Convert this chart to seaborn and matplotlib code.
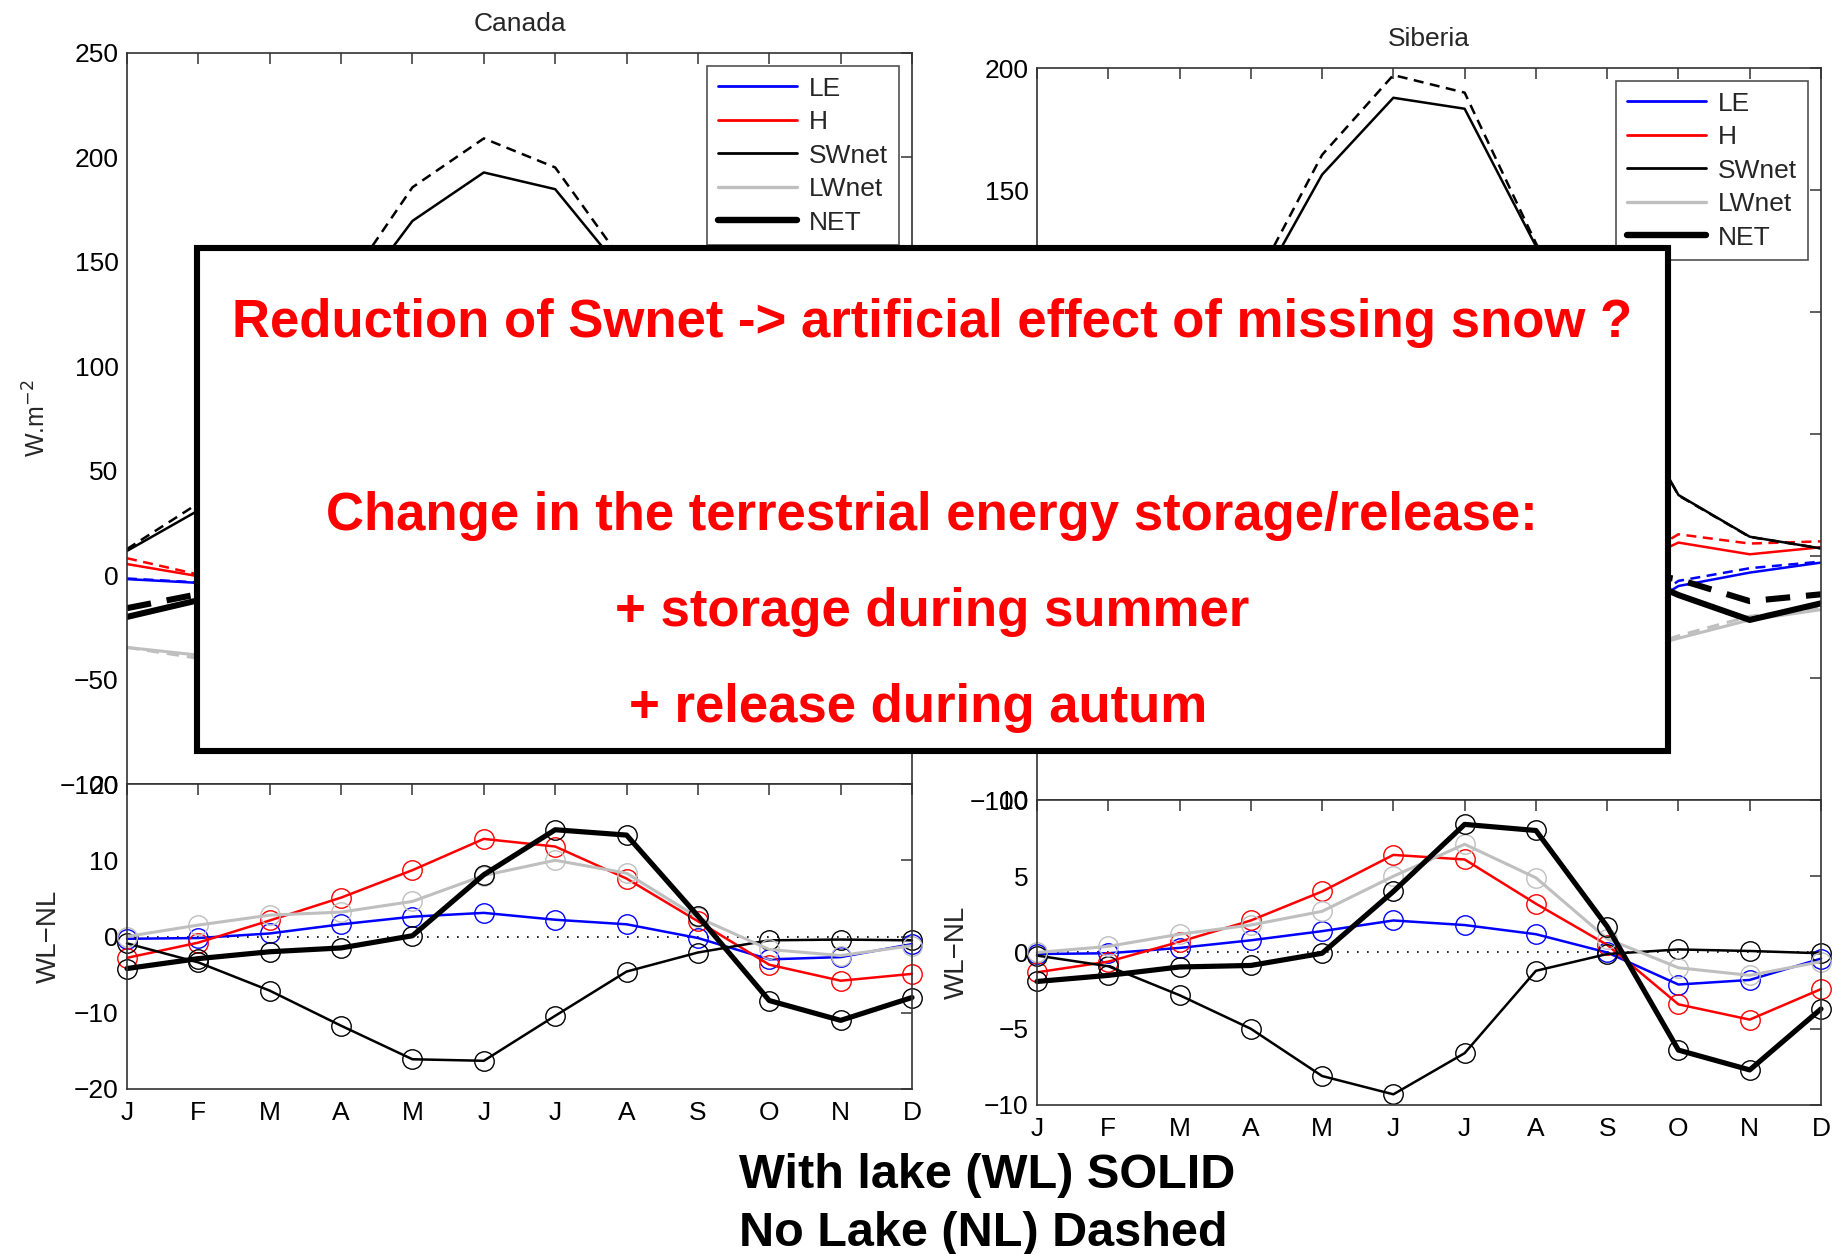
import numpy as np
import matplotlib
matplotlib.use("Agg")
import matplotlib.pyplot as plt
from matplotlib.patches import Rectangle
from matplotlib.lines import Line2D
import seaborn as sns

# ---------------------------------------------------------------- data
months = ["J", "F", "M", "A", "M", "J", "J", "A", "S", "O", "N", "D"]
series = ["LE", "H", "SWnet", "LWnet", "NET"]

# Canada, with lake (WL) monthly fluxes, W m-2
can_wl_le = [-1.9, -3.7, -8.0, -20.0, -45.0, -68.0, -72.0, -58.0, -38.0, -18.0, -6.0, -2.5]
can_wl_h = [5.3, -0.5, -14.0, -32.0, -45.0, -45.0, -36.0, -24.0, -10.0, 0.0, 6.0, 7.0]
can_wl_sw = [11.6, 31.0, 75.0, 124.0, 169.6, 192.8, 184.8, 143.0, 90.0, 42.0, 16.0, 8.0]
can_wl_lw = [-34.6, -38.3, -45.0, -52.0, -58.0, -60.0, -62.0, -58.0, -50.0, -42.0, -36.0, -34.0]
can_wl_net = [-20.0, -12.0, 8.0, 20.0, 21.5, 20.0, 14.5, 3.0, -8.0, -18.0, -20.0, -21.5]

# Canada, no lake (NL)
can_nl_le = [-1.6, -3.5, -8.4, -21.6, -47.6, -71.1, -74.2, -59.6, -37.8, -15.0, -3.3, -1.5]
can_nl_h = [8.1, 0.3, -16.1, -37.1, -53.7, -57.8, -47.8, -31.6, -12.0, 3.7, 11.8, 11.9]
can_nl_sw = [12.5, 34.4, 82.1, 135.7, 185.7, 209.1, 195.2, 147.6, 92.1, 42.5, 16.4, 8.5]
can_nl_lw = [-34.6, -39.8, -47.8, -55.2, -62.6, -68.0, -72.0, -66.3, -52.5, -40.3, -33.5, -32.8]
can_nl_net = [-15.8, -9.1, 10.0, 21.5, 21.4, 11.9, 0.5, -10.3, -10.7, -9.6, -9.0, -13.5]

# Canada, WL - NL
can_d_le = [-0.3, -0.2, 0.4, 1.6, 2.6, 3.1, 2.2, 1.6, -0.2, -3.0, -2.7, -1.0]
can_d_h = [-2.8, -0.8, 2.1, 5.1, 8.7, 12.8, 11.8, 7.6, 2.0, -3.7, -5.8, -4.9]
can_d_sw = [-0.9, -3.4, -7.1, -11.7, -16.1, -16.3, -10.4, -4.6, -2.1, -0.5, -0.4, -0.5]
can_d_lw = [0.0, 1.5, 2.8, 3.2, 4.6, 8.0, 10.0, 8.3, 2.5, -1.7, -2.5, -1.2]
can_d_net = [-4.2, -2.9, -2.0, -1.5, 0.1, 8.1, 14.0, 13.3, 2.7, -8.4, -11.0, -8.0]

# Siberia, with lake (WL)
sib_wl_le = [-1.0, -2.0, -5.0, -15.0, -40.0, -62.0, -65.0, -50.0, -30.0, -12.3, -6.8, -2.7]
sib_wl_h = [4.0, 2.0, -8.0, -25.0, -38.0, -40.0, -32.0, -18.0, -8.0, 5.5, 0.7, 3.6]
sib_wl_sw = [3.0, 15.0, 55.0, 104.0, 156.3, 187.8, 183.3, 127.0, 77.0, 25.0, 7.9, 3.1]
sib_wl_lw = [-20.0, -26.0, -38.0, -48.0, -56.0, -58.0, -60.0, -54.0, -42.0, -33.7, -26.2, -22.0]
sib_wl_net = [-14.0, -11.0, 4.0, 16.0, 22.0, 28.0, 26.0, 5.0, -3.0, -16.0, -26.2, -19.4]

# Siberia, no lake (NL)
sib_nl_le = [-0.9, -1.95, -5.3, -15.8, -41.4, -64.1, -66.8, -51.2, -30.0, -10.2, -5.0, -2.3]
sib_nl_h = [5.3, 2.6, -8.7, -27.1, -42.0, -46.4, -38.1, -21.2, -8.5, 8.9, 5.1, 6.0]
sib_nl_sw = [3.2, 15.9, 57.8, 109.0, 164.4, 197.1, 189.9, 128.2, 77.1, 24.8, 7.8, 3.15]
sib_nl_lw = [-20.0, -26.4, -39.2, -49.8, -58.7, -63.0, -67.1, -58.9, -42.9, -32.7, -24.7, -21.4]
sib_nl_net = [-12.1, -9.5, 4.95, 16.85, 22.05, 24.0, 17.6, -3.0, -4.7, -9.6, -18.5, -15.7]

# Siberia, WL - NL
sib_d_le = [-0.1, -0.05, 0.3, 0.8, 1.4, 2.1, 1.8, 1.2, 0.0, -2.1, -1.8, -0.4]
sib_d_h = [-1.3, -0.6, 0.7, 2.1, 4.0, 6.4, 6.1, 3.2, 0.5, -3.4, -4.4, -2.4]
sib_d_sw = [-0.2, -0.9, -2.8, -5.0, -8.1, -9.3, -6.6, -1.2, -0.1, 0.2, 0.1, -0.05]
sib_d_lw = [0.0, 0.4, 1.2, 1.8, 2.7, 5.0, 7.1, 4.9, 0.9, -1.0, -1.5, -0.6]
sib_d_net = [-1.9, -1.5, -0.95, -0.85, -0.05, 4.0, 8.4, 8.0, 1.7, -6.4, -7.7, -3.7]

note_lines = [
    "Reduction of Swnet -> artificial effect of missing snow ?",
    "Change in the terrestrial energy storage/release:",
    "+ storage during summer",
    "+ release during autum",
]
footer_lines = ["With lake (WL) SOLID", "No Lake (NL) Dashed"]

# ---------------------------------------------------------------- style
sns.set_theme(style="white")
plt.rcParams["font.family"] = ["Liberation Sans", "DejaVu Sans"]
plt.rcParams["axes.unicode_minus"] = True

colors = {"LE": "#0000ff", "H": "#ff0000", "SWnet": "#000000",
          "LWnet": "#bfbfbf", "NET": "#000000"}
widths = {"LE": 1.8, "H": 1.8, "SWnet": 1.8, "LWnet": 2.2, "NET": 4.4}
DASH = (0, (4.0, 2.6))
AX_COL = "0.2"
FS = 19

x = np.arange(12)

fig = plt.figure(figsize=(18.4, 12.54), dpi=100)

W, H = 1840.0, 1254.0


def px_axes(left, right, top, bottom):
    return fig.add_axes([left / W, 1 - bottom / H, (right - left) / W, (bottom - top) / H])


def style_axes(ax, show_xlabels):
    ax.set_xlim(0, 11)
    ax.set_xticks(x)
    if show_xlabels:
        ax.set_xticklabels(months)
    else:
        ax.set_xticklabels([])
    ax.tick_params(axis="both", direction="in", length=8, width=1.1,
                   colors=AX_COL, labelcolor="black", labelsize=FS,
                   top=True, right=True, pad=6)
    ax.tick_params(axis="x", pad=9)
    for s in ax.spines.values():
        s.set_color(AX_COL)
        s.set_linewidth(1.2)
    ax.set_facecolor("white")
    ax.grid(False)


def draw_top(ax, wl, nl, ylim, yticks):
    for name in series:
        sns.lineplot(x=x, y=wl[name], ax=ax, color=colors[name],
                     linewidth=widths[name], legend=False, sort=False)
        sns.lineplot(x=x, y=nl[name], ax=ax, color=colors[name],
                     linewidth=widths[name], linestyle=DASH, legend=False, sort=False)
    ax.set_ylim(*ylim)
    ax.set_yticks(yticks)
    style_axes(ax, False)
    ax.set_xlabel("")
    ax.set_ylabel("")
    handles = [Line2D([0], [0], color=colors[n], lw=widths[n] + 0.2) for n in series]
    leg = ax.legend(handles, series, loc="upper right", bbox_to_anchor=(0.983, 0.982),
                    borderaxespad=0, fontsize=FS, frameon=True, fancybox=False,
                    handlelength=3.0, handletextpad=0.45, labelspacing=0.36,
                    borderpad=0.4)
    leg.get_frame().set_edgecolor("0.15")
    leg.get_frame().set_linewidth(1.2)


def draw_diff(ax, d, ylim, yticks):
    ax.plot([0, 11], [0, 0], color="black", linestyle=(0, (1, 5)), lw=1.2)
    for name in series:
        sns.lineplot(x=x, y=d[name], ax=ax, color=colors[name],
                     linewidth=widths[name] * (0.85 if name == "NET" else 1.0),
                     marker="o", markersize=14, markerfacecolor="none",
                     markeredgecolor=colors[name], markeredgewidth=1.0,
                     legend=False, sort=False, clip_on=False)
    ax.set_ylim(*ylim)
    ax.set_yticks(yticks)
    style_axes(ax, True)
    ax.set_xlabel("")
    ax.set_ylabel("WL\u2212NL", fontsize=20)


# Canada
ax_ct = px_axes(127, 912, 53, 784)
ax_cb = px_axes(127, 912, 784, 1089)
draw_top(ax_ct,
         {"LE": can_wl_le, "H": can_wl_h, "SWnet": can_wl_sw, "LWnet": can_wl_lw, "NET": can_wl_net},
         {"LE": can_nl_le, "H": can_nl_h, "SWnet": can_nl_sw, "LWnet": can_nl_lw, "NET": can_nl_net},
         (-100, 250), np.arange(-100, 251, 50))
ax_ct.set_title("Canada", fontsize=FS, pad=16)
ax_ct.set_ylabel(r"W.m$^{-2}$", fontsize=18)
ax_ct.yaxis.set_label_coords(-0.097, 0.5)
draw_diff(ax_cb,
          {"LE": can_d_le, "H": can_d_h, "SWnet": can_d_sw, "LWnet": can_d_lw, "NET": can_d_net},
          (-20, 20), np.arange(-20, 21, 10))
ax_cb.yaxis.set_label_coords(-0.083, 0.5)

# Siberia
ax_st = px_axes(1037, 1821, 68, 800)
ax_sb = px_axes(1037, 1821, 800, 1105)
draw_top(ax_st,
         {"LE": sib_wl_le, "H": sib_wl_h, "SWnet": sib_wl_sw, "LWnet": sib_wl_lw, "NET": sib_wl_net},
         {"LE": sib_nl_le, "H": sib_nl_h, "SWnet": sib_nl_sw, "LWnet": sib_nl_lw, "NET": sib_nl_net},
         (-100, 200), np.arange(-100, 201, 50))
ax_st.set_title("Siberia", fontsize=FS, pad=16)
draw_diff(ax_sb,
          {"LE": sib_d_le, "H": sib_d_h, "SWnet": sib_d_sw, "LWnet": sib_d_lw, "NET": sib_d_net},
          (-10, 10), np.arange(-10, 11, 5))
ax_sb.yaxis.set_label_coords(-0.085, 0.5)

# Annotation box laid over the top panels
box = Rectangle((197 / W, 1 - 751 / H), (1668 - 197) / W, (751 - 248) / H,
                transform=fig.transFigure, facecolor="white", edgecolor="black",
                linewidth=4.4, zorder=20)
fig.add_artist(box)
note_pos = [(932, 323), (932, 516), (932, 612), (918, 708)]
for txt, (px, py) in zip(note_lines, note_pos):
    fig.text(px / W, 1 - py / H, txt, ha="center", va="center", color="#ff0000",
             fontsize=38, fontweight="bold", zorder=21)

# Footer legend for line styles
footer_pos = [(987, 1175), (983, 1234)]
for txt, (px, py) in zip(footer_lines, footer_pos):
    fig.text(px / W, 1 - py / H, txt, ha="center", va="center", color="black",
             fontsize=35, fontweight="bold", zorder=21)

fig.savefig("out.png", dpi=100, facecolor="white")
